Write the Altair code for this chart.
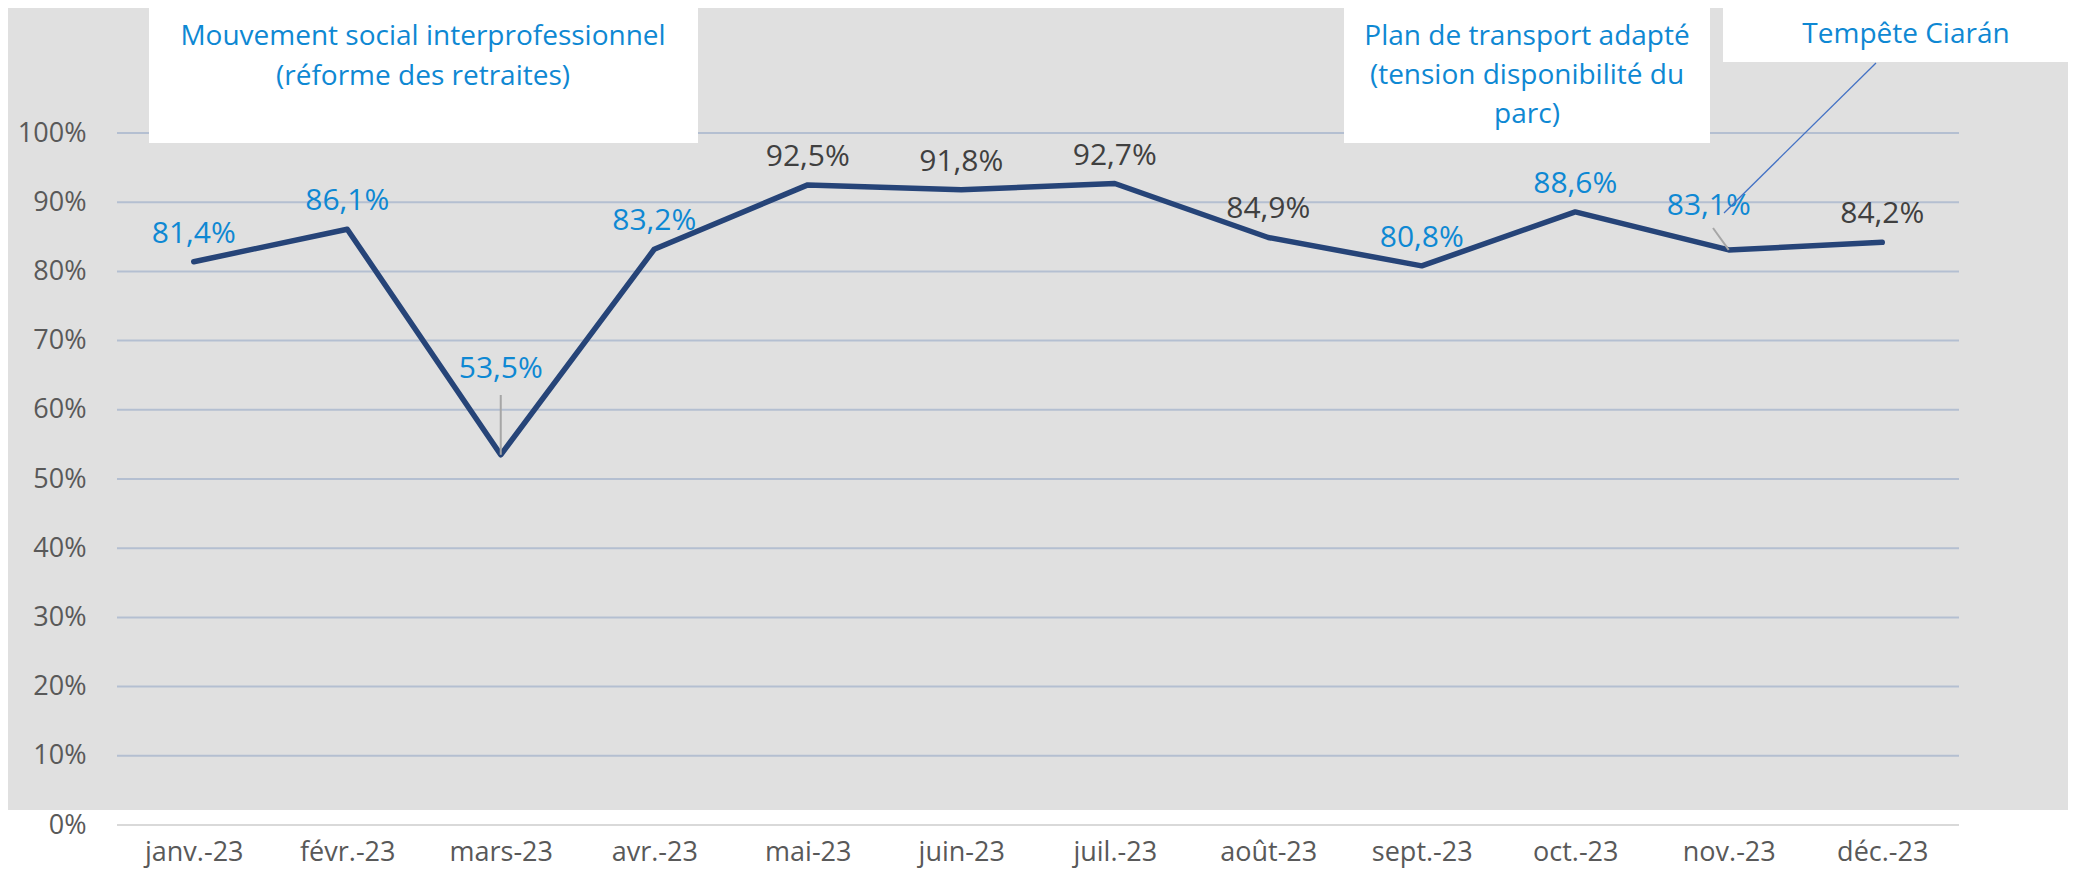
import altair as alt
import pandas as pd

# ---- data ----
mois = ["janv.-23", "févr.-23", "mars-23", "avr.-23", "mai-23", "juin-23",
        "juil.-23", "août-23", "sept.-23", "oct.-23", "nov.-23", "déc.-23"]
taux = [81.4, 86.1, 53.5, 83.2, 92.5, 91.8, 92.7, 84.9, 80.8, 88.6, 83.1, 84.2]
mois_bleus = ["janv.-23", "févr.-23", "mars-23", "avr.-23", "sept.-23", "oct.-23", "nov.-23"]
graduations = [0, 10, 20, 30, 40, 50, 60, 70, 80, 90, 100]

annot_greve = ["Mouvement social interprofessionnel", "(réforme des retraites)"]
annot_plan = ["Plan de transport adapté", "(tension disponibilité du", "parc)"]
annot_tempete = ["Tempête Ciarán"]

# ---- layout / style ----
W, H = 1842, 692
PL, PT, PR, PB = 109, 125, 109, 49
FONT = "Open Sans"
BLEU = "#0e88d3"
SOMBRE = "#404040"
NAVY = "#264478"
GRILLE = "#b4bfd1"

df = pd.DataFrame({"mois": mois, "taux": taux})
df["label"] = [f"{v:.1f}%".replace(".", ",") for v in taux]
grid_df = pd.DataFrame({"taux": [g for g in graduations if g > 0]})
one = pd.DataFrame({"k": [0]})

x_enc = alt.X("mois:N", sort=mois, title=None,
              scale=alt.Scale(type="point", padding=0.5),
              axis=alt.Axis(labelFont=FONT, labelFontSize=27, labelColor="#595959",
                            labelPadding=14, ticks=False, domain=False, grid=False,
                            labelAngle=0, zindex=1))
y_enc = alt.Y("taux:Q", title=None,
              scale=alt.Scale(domain=[0, 100], nice=False),
              axis=alt.Axis(values=graduations, labelExpr="datum.value + '%'",
                            labelFont=FONT, labelFontSize=27, labelColor="#595959",
                            labelPadding=31, ticks=False, domain=False, grid=False,
                            zindex=1))

base = alt.Chart(df)

fond = alt.Chart(one).mark_rect(color="#e0e0e0").encode(
    x=alt.value(-PL), x2=alt.value(W + PR), y=alt.value(-PT), y2=alt.value(677))

grille = alt.Chart(grid_df).mark_rule(color=GRILLE, strokeWidth=2).encode(
    y=y_enc, x=alt.value(0), x2=alt.value(W))

zero = alt.Chart(one).mark_rule(color="#d9d9d9", strokeWidth=2).encode(
    y=alt.value(H), x=alt.value(0), x2=alt.value(W))

ligne = base.mark_line(color=NAVY, strokeWidth=5.5, strokeCap="round",
                       strokeJoin="round").encode(x=x_enc, y=y_enc)

couleur = alt.condition(alt.FieldOneOfPredicate(field="mois", oneOf=mois_bleus),
                        alt.value(BLEU), alt.value(SOMBRE))

etiq = base.transform_filter(
    ~alt.FieldOneOfPredicate(field="mois", oneOf=["mars-23", "nov.-23"])
).mark_text(font=FONT, fontSize=30, baseline="middle", dy=-28).encode(
    x=x_enc, y=y_enc, text="label:N", color=couleur)

etiq_mars = base.transform_filter(alt.datum.mois == "mars-23").mark_text(
    font=FONT, fontSize=30, baseline="middle", dy=-86).encode(
    x=x_enc, y=y_enc, text="label:N", color=couleur)

etiq_nov = base.transform_filter(alt.datum.mois == "nov.-23").mark_text(
    font=FONT, fontSize=30, baseline="middle", dx=-20, dy=-44).encode(
    x=x_enc, y=y_enc, text="label:N", color=couleur)

guide_mars = base.transform_filter(alt.datum.mois == "mars-23").mark_rule(
    color="#a6a6a6", strokeWidth=2).encode(x=x_enc, y=y_enc, y2=alt.value(262))

guide_nov = base.transform_filter(alt.datum.mois == "nov.-23").mark_rule(
    color="#a6a6a6", strokeWidth=2).encode(x=x_enc, y=y_enc,
                                           x2=alt.value(1596), y2=alt.value(95))

boites = [
    alt.Chart(one).mark_rect(color="white").encode(
        x=alt.value(32), x2=alt.value(581), y=alt.value(-PT), y2=alt.value(10)),
    alt.Chart(one).mark_rect(color="white").encode(
        x=alt.value(1227), x2=alt.value(1593), y=alt.value(-PT), y2=alt.value(10)),
    alt.Chart(one).mark_rect(color="white").encode(
        x=alt.value(1606), x2=alt.value(W + PR), y=alt.value(-PT), y2=alt.value(-71)),
]

textes = []
for i, t in enumerate(annot_greve):
    textes.append(alt.Chart(one).mark_text(text=t, font=FONT, fontSize=28, color=BLEU,
                                           baseline="middle", align="center").encode(
        x=alt.value(306), y=alt.value(-96 + 40 * i)))
for i, t in enumerate(annot_plan):
    textes.append(alt.Chart(one).mark_text(text=t, font=FONT, fontSize=28, color=BLEU,
                                           baseline="middle", align="center").encode(
        x=alt.value(1410), y=alt.value(-96 + 39 * i)))
for t in annot_tempete:
    textes.append(alt.Chart(one).mark_text(text=t, font=FONT, fontSize=28, color=BLEU,
                                           baseline="middle", align="center").encode(
        x=alt.value(1789), y=alt.value(-98)))

guide_tempete = alt.Chart(one).mark_rule(color="#4472c4", strokeWidth=1.3).encode(
    x=alt.value(1759), y=alt.value(-70), x2=alt.value(1607), y2=alt.value(80))

chart = alt.layer(
    fond, grille, zero, ligne, guide_mars, guide_nov, etiq, etiq_mars, etiq_nov,
    *boites, *textes, guide_tempete
).properties(
    width=W, height=H,
    autosize=alt.AutoSizeParams(type="none"),
    padding={"left": PL, "top": PT, "right": PR, "bottom": PB},
    background="white",
).configure_view(stroke=None)

chart.save("out.html", embed_options={"renderer": "svg", "actions": False})
